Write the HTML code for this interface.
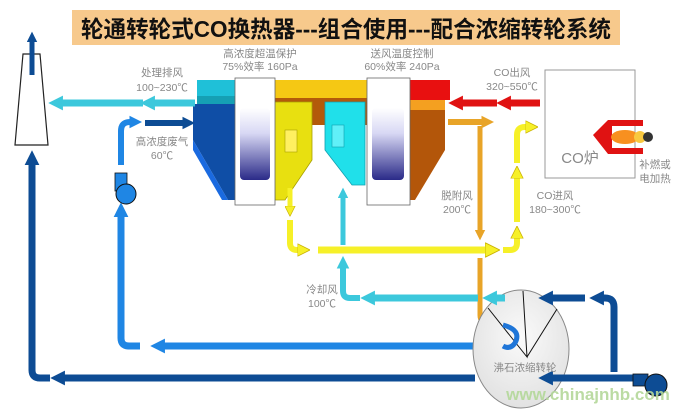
<!DOCTYPE html>
<html><head><meta charset="utf-8"><style>
html,body{margin:0;padding:0;background:#fff;width:682px;height:415px;overflow:hidden}
svg text{font-family:"Liberation Sans","Noto Sans CJK SC",sans-serif}
</style></head><body>
<svg width="682" height="415" viewBox="0 0 682 415" xmlns="http://www.w3.org/2000/svg">
<defs>
<marker id="mc" viewBox="0 0 10 10" refX="2" refY="5" markerWidth="2.1" markerHeight="2.1" orient="auto"><path d="M0,0L10,5L0,10z" fill="#3cc8dc"/></marker>
<marker id="md" viewBox="0 0 10 10" refX="2" refY="5" markerWidth="2.1" markerHeight="2.1" orient="auto"><path d="M0,0L10,5L0,10z" fill="#0d4c94"/></marker>
<marker id="mb" viewBox="0 0 10 10" refX="2" refY="5" markerWidth="2.1" markerHeight="2.1" orient="auto"><path d="M0,0L10,5L0,10z" fill="#1f86e4"/></marker>
<marker id="my" viewBox="0 0 10 10" refX="2" refY="5" markerWidth="2.1" markerHeight="2.1" orient="auto"><path d="M0,0L10,5L0,10z" fill="#f6f028" stroke="#c8b000" stroke-width="0.6"/></marker>
<marker id="mo" viewBox="0 0 10 10" refX="2" refY="5" markerWidth="2.1" markerHeight="2.1" orient="auto"><path d="M0,0L10,5L0,10z" fill="#e8a428"/></marker>
<marker id="mr" viewBox="0 0 10 10" refX="2" refY="5" markerWidth="2.1" markerHeight="2.1" orient="auto"><path d="M0,0L10,5L0,10z" fill="#e01212"/></marker>
<linearGradient id="wg" x1="0" y1="0" x2="0" y2="1"><stop offset="0" stop-color="#fff"/><stop offset="0.35" stop-color="#d8d8f4"/><stop offset="1" stop-color="#2a2a88"/></linearGradient>
<radialGradient id="eg" cx="0.5" cy="0.4" r="0.6"><stop offset="0" stop-color="#fafafa"/><stop offset="1" stop-color="#e2e2e2"/></radialGradient>
</defs>

<rect x="72" y="10" width="548" height="35" fill="#f7c98c"/>
<text x="346" y="37" font-size="23" font-weight="bold" text-anchor="middle" textLength="530" lengthAdjust="spacingAndGlyphs" fill="#111">轮通转轮式CO换热器---组合使用---配合浓缩转轮系统</text>

<polygon points="23,54 40,54 48,145 15,145" fill="#fff" stroke="#222" stroke-width="1.2"/>
<path d="M32,75 L32,40" stroke="#0d4c94" stroke-width="5" fill="none" marker-end="url(#md)"/>

<rect x="197" y="80" width="38" height="22" fill="#1fc0d8"/>
<rect x="197" y="96" width="38" height="8" fill="#15a0b4"/>
<polygon points="193,104 235,104 235,200 228,200 193,140" fill="#0f4ea6"/>
<polygon points="193,140 228,200 222,200 193,150" fill="#1a6ae0"/>
<rect x="275" y="80" width="95" height="18" fill="#f5c814"/>
<rect x="275" y="98" width="135" height="27" fill="#b35a0a"/>
<polygon points="273,102 312,102 312,160 285,200 275,200" fill="#e8e010" stroke="#a8a000" stroke-width="0.8"/>
<rect x="285" y="130" width="12" height="22" fill="#fff060" stroke="#a8a000" stroke-width="0.6"/>
<polygon points="325,102 365,102 365,185 352,185 325,150" fill="#20e0ea" stroke="#10a0b0" stroke-width="0.8"/>
<rect x="332" y="125" width="12" height="22" fill="#60f0f8" stroke="#10a0b0" stroke-width="0.6"/>
<rect x="410" y="80" width="40" height="20" fill="#e81010"/>
<rect x="407" y="100" width="38" height="10" fill="#f4a020"/>
<polygon points="407,110 445,110 445,150 415,200 407,200" fill="#b3560a"/>
<g fill="#fff" stroke="#666" stroke-width="0.8">
<rect x="235" y="78" width="40" height="127"/>
<rect x="367" y="78" width="43" height="127"/>
</g>
<rect x="240" y="108" width="30" height="72" rx="4" fill="url(#wg)"/>
<rect x="372" y="108" width="32" height="72" rx="4" fill="url(#wg)"/>

<rect x="545" y="70" width="90" height="108" fill="#fff" stroke="#999" stroke-width="1"/>
<polygon points="593,135 608,120 643,120 643,126 612,126 612,148 643,148 643,154 608,154" fill="#e01212"/>
<ellipse cx="625" cy="137" rx="14" ry="7" fill="#f89020"/>
<circle cx="640" cy="137" r="6" fill="#f8c840"/>
<circle cx="648" cy="137" r="5" fill="#333"/>

<g fill="none" stroke-linejoin="round">
<path d="M195,103 L152,103" stroke="#3cc8dc" stroke-width="7" marker-end="url(#mc)"/>
<path d="M143,103 L60,103" stroke="#3cc8dc" stroke-width="7" marker-end="url(#mc)"/>
<path d="M145,123 L185,123" stroke="#0d4c94" stroke-width="6" marker-end="url(#md)"/>
<path d="M121,165 L121,131 Q121,122 130,122 L132,122" stroke="#1f86e4" stroke-width="6" marker-end="url(#mb)"/>
<path d="M475,378 L62,378" stroke="#0d4c94" stroke-width="7" marker-end="url(#md)"/>
<path d="M50,378 L40,378 Q32,378 32,370 L32,162" stroke="#0d4c94" stroke-width="7" marker-end="url(#md)"/>
<path d="M495,346 L162,346" stroke="#1f86e4" stroke-width="7" marker-end="url(#mb)"/>
<path d="M140,346 L129,346 Q121,346 121,338 L121,214" stroke="#1f86e4" stroke-width="7" marker-end="url(#mb)"/>
<path d="M540,103 L508,103" stroke="#e01212" stroke-width="7" marker-end="url(#mr)"/>
<path d="M497,103 L460,103" stroke="#e01212" stroke-width="7" marker-end="url(#mr)"/>
<path d="M448,122 L484,122" stroke="#e8a428" stroke-width="6" marker-end="url(#mo)"/>
<path d="M480,126 L480,232" stroke="#e8a428" stroke-width="5" marker-end="url(#mo)"/>
<path d="M480,258 L480,315 Q480,323 488,323 L490,323" stroke="#e8a428" stroke-width="5" marker-end="url(#mo)"/>
<path d="M517,163 L517,135 Q517,127 525,127 L528,127" stroke="#f6f028" stroke-width="6" marker-end="url(#my)"/>
<path d="M517,222 L517,176" stroke="#f6f028" stroke-width="6" marker-end="url(#my)"/>
<path d="M503,250 L510,250 Q517,250 517,243 L517,236" stroke="#f6f028" stroke-width="6" marker-end="url(#my)"/>
<path d="M318,250 L488,250" stroke="#f6f028" stroke-width="7" marker-end="url(#my)"/>
<path d="M290,188 L290,208" stroke="#f6f028" stroke-width="5" marker-end="url(#my)"/>
<path d="M290,220 L290,243 Q290,250 297,250 L300,250" stroke="#f6f028" stroke-width="6" marker-end="url(#my)"/>
<path d="M343,245 L343,196" stroke="#3cc8dc" stroke-width="5" marker-end="url(#mc)"/>
<path d="M360,298 L350,298 Q343,298 343,291 L343,266" stroke="#3cc8dc" stroke-width="6" marker-end="url(#mc)"/>
<path d="M478,298 L372,298" stroke="#3cc8dc" stroke-width="7" marker-end="url(#mc)"/>
</g>

<ellipse cx="521" cy="349" rx="48" ry="59" fill="url(#eg)" stroke="#888" stroke-width="1"/>
<g stroke="#111" stroke-width="1" fill="none">
<path d="M488,308 L527,357 L523,291 M527,357 L557,309"/>
</g>
<path d="M503,325 Q522,330 515,343 Q510,350 503,346" stroke="#1f76d8" stroke-width="5" fill="none"/>
<g fill="none">
<path d="M505,298 L494,298" stroke="#3cc8dc" stroke-width="7" marker-end="url(#mc)"/>
<path d="M585,298 L550,298" stroke="#0d4c94" stroke-width="7" marker-end="url(#md)"/>
<path d="M614,372 L614,307 Q614,298 605,298 L601,298" stroke="#0d4c94" stroke-width="7" marker-end="url(#md)"/>
<path d="M633,378 L550,378" stroke="#0d4c94" stroke-width="7" marker-end="url(#md)"/>
</g>
<rect x="633" y="374" width="15" height="12" fill="#0d4c94" stroke="#111" stroke-width="0.8"/>
<circle cx="656" cy="385" r="11" fill="#0d4c94" stroke="#111" stroke-width="1"/>
<rect x="115" y="173" width="12" height="18" fill="#1f86e4" stroke="#111" stroke-width="0.8"/>
<circle cx="126" cy="194" r="10" fill="#1f86e4" stroke="#111" stroke-width="1"/>

<g font-size="10.5" fill="#888" text-anchor="middle">
<text x="162" y="76">处理排风</text><text x="162" y="91">100~230℃</text>
<text x="162" y="145">高浓度废气</text><text x="162" y="159">60℃</text>
<text x="260" y="57">高浓度超温保护</text><text x="260" y="70">75%效率 160Pa</text>
<text x="402" y="57">送风温度控制</text><text x="402" y="70">60%效率 240Pa</text>
<text x="512" y="76">CO出风</text><text x="512" y="90">320~550℃</text>
<text x="457" y="199">脱附风</text><text x="457" y="213">200℃</text>
<text x="555" y="199">CO进风</text><text x="555" y="213">180~300℃</text>
<text x="655" y="168">补燃或</text><text x="655" y="182">电加热</text>
<text x="322" y="293">冷却风</text><text x="322" y="307">100℃</text>
<text x="525" y="371">沸石浓缩转轮</text>
</g>
<text x="580" y="163" font-size="15" fill="#888" text-anchor="middle">CO炉</text>
<text x="588" y="400" font-size="17" font-weight="bold" fill="#b4d89a" text-anchor="middle" opacity="0.9">www.chinajnhb.com</text>
</svg>
</body></html>
